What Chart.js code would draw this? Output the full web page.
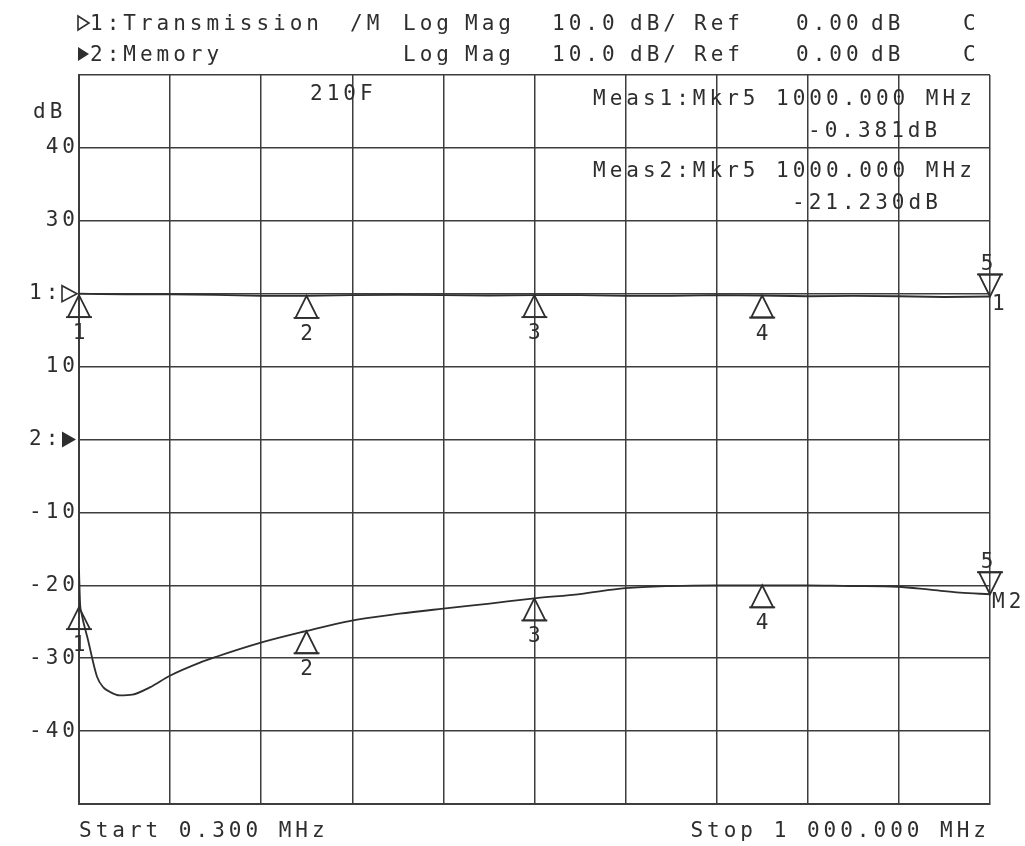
<!DOCTYPE html>
<html><head><meta charset="utf-8">
<script src="https://cdn.jsdelivr.net/npm/chart.js@4.4.1/dist/chart.umd.min.js"></script>
<style>html,body{margin:0;padding:0;background:#fff;}canvas{display:block;}</style>
</head><body>
<canvas id="c" width="1025" height="846"></canvas>
<script>
// ---- data ----
const transFreqMHz = [0.3, 25, 50, 100, 150, 200, 250, 300, 350, 400, 450, 500, 550, 600, 650, 700, 750, 800, 850, 900, 950, 1000];
const transmissionDb = [0.0, -0.05, -0.1, -0.1, -0.15, -0.3, -0.3, -0.2, -0.15, -0.2, -0.25, -0.2, -0.2, -0.3, -0.3, -0.2, -0.25, -0.35, -0.3, -0.35, -0.45, -0.381];

const memFreqMHz = [0.3, 1.5, 3, 10, 20, 27, 34, 45, 59, 78, 100, 133, 151, 199, 249, 297, 352, 400, 451, 500, 550, 600, 649, 700, 749, 799, 846, 899, 934, 967, 1000];
const memoryDb  = [-17.8, -22.5, -23.8, -27.4, -32.5, -34.0, -34.6, -35.1, -35.0, -34.0, -32.4, -30.6, -29.8, -27.9, -26.3, -24.9, -23.9, -23.2, -22.5, -21.8, -21.2, -20.4, -20.1, -20.0, -20.0, -20.0, -20.1, -20.2, -20.6, -21.0, -21.23];

const markerFreqMHz = [0.3, 250, 500, 750, 1000];
const markerNames = ['1', '2', '3', '4', '5'];
const markerTransDb = [-0.2, -0.3, -0.2, -0.25, -0.381];
const markerMemDb = [-23.0, -26.3, -21.8, -20.0, -21.23];

const yTickValues = [40, 30, 20, 10, 0, -10, -20, -30, -40];
const yTickLabels = ['40', '30', '1: ', '10', '2: ', '-10', '-20', '-30', '-40'];
const xStartLabel = 'Start 0.300 MHz';
const xStopLabel = 'Stop 1 000.000 MHz';
const xDivisions = 10;

const headerLine1 = [['1:Transmission', 90], ['/M', 350], ['Log', 403], ['Mag', 465], ['10.0', 552], ['dB/', 630], ['Ref', 694], ['0.00', 796], ['dB', 871], ['C', 963]];
const headerLine2 = [['2:Memory', 90], ['Log', 403], ['Mag', 465], ['10.0', 552], ['dB/', 630], ['Ref', 694], ['0.00', 796], ['dB', 871], ['C', 963]];
const measTexts = [['Meas1:Mkr5 1000.000 MHz', 593, 105], ['-0.381dB', 808, 137], ['Meas2:Mkr5 1000.000 MHz', 593, 177], ['-21.230dB', 792, 209]];

const TRACE1_REF_POS = 20;   // grid value where trace 1's 0 dB reference sits
const TRACE2_REF_POS = 0;
const START_MHZ = 0.3, STOP_MHZ = 1000;

// ---- styling ----
const INK = '#2e2e2e';
const GRID = '#3d3d3d';
const FONT = '"DejaVu Sans Mono", "Liberation Mono", monospace';
const FSIZE = 21;
const LS = '4px';

const trans = transFreqMHz.map((f, i) => ({x: f, y: transmissionDb[i] + TRACE1_REF_POS}));
const mem = memFreqMHz.map((f, i) => ({x: f, y: memoryDb[i] + TRACE2_REF_POS}));

function tri(ctx, pts, fill) {
  ctx.beginPath(); ctx.moveTo(pts[0][0], pts[0][1]);
  for (let i = 1; i < pts.length; i++) ctx.lineTo(pts[i][0], pts[i][1]);
  ctx.closePath();
  if (fill) ctx.fill(); else ctx.stroke();
}

const spacingPlugin = {
  id: 'spacing',
  beforeDraw(chart) { chart.ctx.letterSpacing = LS; }
};

const annotPlugin = {
  id: 'annot',
  afterDraw(chart) {
    const ctx = chart.ctx, xs = chart.scales.x, ys = chart.scales.y;
    ctx.save();
    ctx.letterSpacing = LS;
    ctx.fillStyle = INK; ctx.strokeStyle = INK;
    ctx.font = FSIZE + 'px ' + FONT;
    ctx.textAlign = 'left'; ctx.textBaseline = 'alphabetic';
    headerLine1.forEach(([t, x]) => ctx.fillText(t, x, 30));
    headerLine2.forEach(([t, x]) => ctx.fillText(t, x, 61));
    measTexts.forEach(([t, x, y]) => ctx.fillText(t, x, y));
    ctx.fillText('210F', 310, 100);
    ctx.fillText('dB', 33, 118);
    // header trace symbols
    ctx.lineWidth = 1.6;
    tri(ctx, [[78, 16], [78, 30], [89, 23]], false);
    tri(ctx, [[78, 47], [78, 61], [89, 54]], true);
    // reference position symbols on y axis
    const r1 = ys.getPixelForValue(TRACE1_REF_POS), r2 = ys.getPixelForValue(TRACE2_REF_POS);
    tri(ctx, [[62, r1 - 8], [62, r1 + 8], [77, r1]], false);
    tri(ctx, [[62, r2 - 8], [62, r2 + 8], [76, r2]], true);
    // markers
    ctx.lineWidth = 1.8;
    const sets = [[markerTransDb, TRACE1_REF_POS, '1'], [markerMemDb, TRACE2_REF_POS, 'M2']];
    sets.forEach(([vals, off, tag]) => {
      markerFreqMHz.forEach((f, i) => {
        const px = xs.getPixelForValue(f), py = ys.getPixelForValue(vals[i] + off);
        if (i < markerFreqMHz.length - 1) {
          tri(ctx, [[px, py], [px - 11, py + 22], [px + 11, py + 22]], false);
          ctx.beginPath(); ctx.moveTo(px - 13, py + 22); ctx.lineTo(px + 13, py + 22); ctx.stroke();
          ctx.textAlign = 'center';
          ctx.fillText(markerNames[i], px + 2, py + 44);
        } else {
          tri(ctx, [[px, py], [px - 11, py - 22], [px + 11, py - 22]], false);
          ctx.beginPath(); ctx.moveTo(px - 13, py - 22); ctx.lineTo(px + 13, py - 22); ctx.stroke();
          ctx.textAlign = 'center';
          ctx.fillText(markerNames[i], px - 1, py - 26);
          ctx.textAlign = 'left';
          ctx.fillText(tag, px + 2, py + 14);
        }
      });
    });
    ctx.restore();
  }
};

new Chart(document.getElementById('c').getContext('2d'), {
  type: 'line',
  data: {
    datasets: [
      {label: '1: Transmission', data: trans, borderColor: INK, borderWidth: 1.8, pointRadius: 0, tension: 0, fill: false},
      {label: '2: Memory', data: mem, borderColor: INK, borderWidth: 1.8, pointRadius: 0, cubicInterpolationMode: 'monotone', fill: false}
    ]
  },
  options: {
    responsive: false, animation: false, devicePixelRatio: 1,
    layout: {padding: {left: 0, right: 35, top: 75, bottom: 0}},
    plugins: {legend: {display: false}, tooltip: {enabled: false}},
    scales: {
      x: {
        type: 'linear', min: START_MHZ, max: STOP_MHZ,
        afterBuildTicks(scale) {
          const t = [];
          for (let i = 0; i <= xDivisions; i++) t.push({value: START_MHZ + i * (STOP_MHZ - START_MHZ) / xDivisions});
          scale.ticks = t;
        },
        afterFit(scale) { scale.height = 42; },
        grid: {color: GRID, lineWidth: 1.5, drawTicks: false},
        border: {display: true, color: GRID, width: 2},
        ticks: {
          align: 'inner', autoSkip: false, maxRotation: 0, minRotation: 0, padding: 15,
          color: INK, font: {family: FONT, size: FSIZE},
          callback: (v, i) => i === 0 ? xStartLabel : (i === xDivisions ? xStopLabel : '')
        }
      },
      y: {
        type: 'linear', min: -50, max: 50,
        afterBuildTicks(scale) {
          const t = [{value: -50}];
          yTickValues.slice().reverse().forEach(v => t.push({value: v}));
          t.push({value: 50});
          scale.ticks = t;
        },
        afterFit(scale) { scale.width = 79; },
        grid: {color: GRID, lineWidth: 1.5, drawTicks: false},
        border: {display: true, color: GRID, width: 2},
        ticks: {
          padding: 0, color: INK, font: {family: FONT, size: FSIZE},
          callback: (v) => { const k = yTickValues.indexOf(v); return k >= 0 ? yTickLabels[k] : ''; }
        }
      }
    }
  },
  plugins: [spacingPlugin, annotPlugin]
});
</script>
</body></html>
